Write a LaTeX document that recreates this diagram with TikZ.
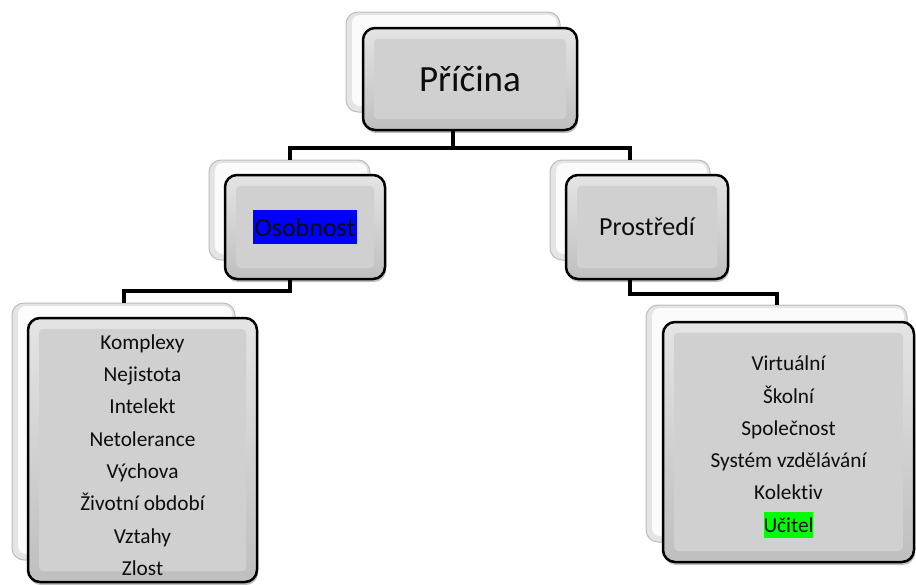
\documentclass[tikz,border=0pt]{standalone}
\usepackage{fontspec}
\setmainfont[Ligatures={NoCommon,NoRequired,NoContextual}]{Carlito}
\usetikzlibrary{shadows}
\definecolor{facetop}{HTML}{E4E4E4}
\definecolor{facebot}{HTML}{BFBFBF}
\definecolor{frontface}{HTML}{D0D0D0}
\definecolor{backfill}{HTML}{E4E4E4}
\definecolor{backface}{HTML}{FBFBFB}
\definecolor{backedge}{HTML}{BDBDBD}
\definecolor{txt}{HTML}{0D0D0D}
\definecolor{hlblue}{HTML}{0000FF}
\definecolor{hlgreen}{HTML}{00FF00}
\newcommand{\hlbluebox}[1]{{\setlength{\fboxsep}{0pt}\colorbox{hlblue}{\rule[-8pt]{0pt}{34pt}\hspace{1.5pt}#1\hspace{1.5pt}}}}
\newcommand{\hlgreenbox}[1]{{\setlength{\fboxsep}{0pt}\colorbox{hlgreen}{\rule[-6pt]{0pt}{26pt}#1}}}
\tikzset{
  backbox/.style={rectangle, rounded corners=12pt, draw=backedge, line width=1pt,
    fill=backfill, inner sep=0pt,
    path picture={\fill[backface, rounded corners=8pt]
      ([xshift=6pt,yshift=6pt]path picture bounding box.south west) rectangle
      ([xshift=-3pt,yshift=-3pt]path picture bounding box.north east);}},
  frontbox/.style={rectangle, rounded corners=12pt, draw=black, line width=2.5pt,
    top color=facetop, bottom color=facebot, inner sep=0pt, text=txt, align=center,
    drop shadow={shadow xshift=1pt, shadow yshift=-3pt, opacity=0.25, fill=black},
    path picture={\fill[frontface, rounded corners=4pt]
      ([xshift=11pt,yshift=11pt]path picture bounding box.south west) rectangle
      ([xshift=-11pt,yshift=-11pt]path picture bounding box.north east);}},
  conn/.style={draw=black, line width=4pt, line join=miter}
}
\begin{document}
\begin{tikzpicture}[x=1pt,y=-1pt]
\useasboundingbox (0,0) rectangle (916,584);
% back boxes
\node[backbox, minimum width=214pt, minimum height=100pt] (tb) at (453,62) {};
\node[backbox, minimum width=161pt, minimum height=100pt] (ob) at (289.5,210) {};
\node[backbox, minimum width=160pt, minimum height=100pt] (pb) at (630,210) {};
\node[backbox, minimum width=223pt, minimum height=257pt] (lb) at (123.5,431.5) {};
\node[backbox, minimum width=261pt, minimum height=237pt] (rb) at (776.5,423.5) {};
% connectors
\draw[conn] (tb.south) -- ++(0,35) coordinate (j1) -| (ob.north);
\draw[conn] (j1) -| (pb.north);
\draw[conn] (ob.south) -- ++(0,30) -| (lb.north);
\draw[conn] (pb.south) -- ++(0,33) -| (rb.north);
% front boxes
\node[frontbox, minimum width=214pt, minimum height=102pt, font=\fontsize{37}{44}\selectfont] (tf) at (470,79) {Příčina};
\node[frontbox, minimum width=160pt, minimum height=104pt, font=\fontsize{26}{31}\selectfont] (of) at (305,227) {\hlbluebox{Osobnost}};
\node[frontbox, minimum width=162pt, minimum height=104pt, font=\fontsize{26}{31}\selectfont] (pf) at (647,227) {Prostředí};
\node[frontbox, minimum width=229pt, minimum height=264pt, font=\fontsize{21.3}{32.3}\selectfont] (lf) at (142.5,450) {\rule{0pt}{25pt}Komplexy\\Nejistota\\Intelekt\\Netolerance\\Výchova\\Životní období\\Vztahy\\Zlost};
\node[frontbox, minimum width=251pt, minimum height=240pt, font=\fontsize{21.3}{32.3}\selectfont] (rf) at (788.5,442) {\rule{0pt}{25pt}Virtuální\\Školní\\Společnost\\Systém vzdělávání\\Kolektiv\\\hlgreenbox{Učitel}};
\end{tikzpicture}
\end{document}
